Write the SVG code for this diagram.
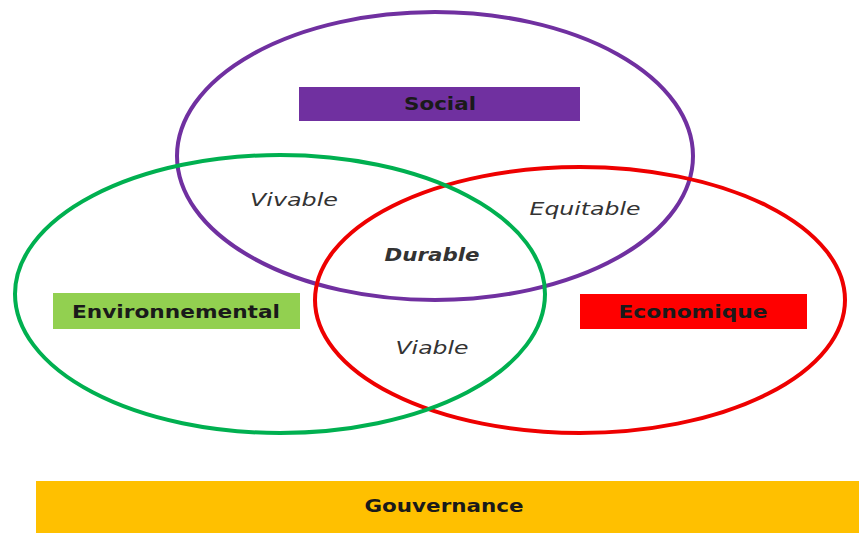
<svg xmlns="http://www.w3.org/2000/svg" width="859" height="533" viewBox="0 0 859 533">
<style>
.ring{fill:none;stroke-width:4}
.lbl{font-family:"DejaVu Sans",Verdana,sans-serif;font-weight:bold;font-size:17px;fill:#1a1a1a;text-anchor:middle}
.it{font-family:"DejaVu Sans",Verdana,sans-serif;font-style:italic;font-size:17px;fill:#333;text-anchor:middle}
</style>
<rect width="859" height="533" fill="#fff"/>
<g id="connectors"></g>
<g id="social-ring"><ellipse class="ring" cx="435" cy="156" rx="258" ry="144" stroke="#7030A0"/></g>
<g id="economique-ring"><ellipse class="ring" cx="580" cy="300" rx="265" ry="133" stroke="#EE0000"/></g>
<g id="environnemental-ring"><ellipse class="ring" cx="280" cy="294" rx="265" ry="139" stroke="#00B050"/></g>
<g id="social"><rect x="299" y="87" width="281" height="34" fill="#7030A0"/><text class="lbl" x="440" y="110" textLength="72" lengthAdjust="spacingAndGlyphs" fill="#1e0a30">Social</text></g>
<g id="environnemental"><rect x="53" y="293" width="247" height="36" fill="#92D050"/><text class="lbl" x="176" y="318" textLength="208" lengthAdjust="spacingAndGlyphs">Environnemental</text></g>
<g id="economique"><rect x="580" y="294" width="227" height="35" fill="#FF0000"/><text class="lbl" x="693" y="318" textLength="149" lengthAdjust="spacingAndGlyphs" fill="#3a0000">Economique</text></g>
<g id="gouvernance"><rect x="36" y="481" width="823" height="52" fill="#FFC000"/><text class="lbl" x="444" y="512" textLength="159" lengthAdjust="spacingAndGlyphs">Gouvernance</text></g>
<g id="vivable"><text class="it" x="294" y="206" textLength="88" lengthAdjust="spacingAndGlyphs">Vivable</text></g>
<g id="equitable"><text class="it" x="585" y="215" textLength="111" lengthAdjust="spacingAndGlyphs">Equitable</text></g>
<g id="durable"><text class="it" x="432" y="261" font-weight="bold" fill="#1a1a1a" textLength="95" lengthAdjust="spacingAndGlyphs">Durable</text></g>
<g id="viable"><text class="it" x="432" y="354" textLength="73" lengthAdjust="spacingAndGlyphs">Viable</text></g>
</svg>
